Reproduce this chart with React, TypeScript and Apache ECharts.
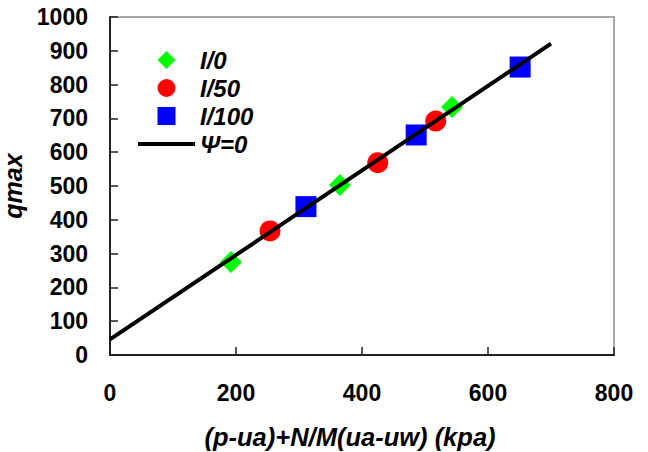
import React, { useEffect, useRef } from "react";
import * as echarts from "echarts";

const seriesNames = ["I/0", "I/50", "I/100", "Ψ=0"];
const i0Points: [number, number][] = [
  [192, 275],
  [365, 503],
  [543, 734],
];
const i50Points: [number, number][] = [
  [254, 367],
  [425, 569],
  [517, 692],
];
const i100Points: [number, number][] = [
  [311, 439],
  [486, 651],
  [651, 852],
];
const fitLine: [number, number][] = [
  [0, 46],
  [700, 921],
];
const xTicks = { min: 0, max: 800, interval: 200 };
const yTicks = { min: 0, max: 1000, interval: 100 };

const FONT = "'Liberation Sans', Arial, sans-serif";

export default function App() {
  const ref = useRef<HTMLDivElement>(null);
  useEffect(() => {
    if (!ref.current) return;
    const chart = echarts.init(ref.current, undefined, { renderer: "svg" });
    chart.setOption({
      animation: false,
      backgroundColor: "#ffffff",
      grid: {
        left: 110,
        right: 34,
        top: 17,
        bottom: 97,
        show: true,
        borderColor: "#8c8c8c",
        borderWidth: 1.5,
        backgroundColor: "transparent",
        containLabel: false,
        outerBoundsMode: "none",
      },
      legend: {
        orient: "vertical",
        left: 133,
        top: 43,
        itemWidth: 57,
        itemHeight: 18,
        itemGap: 4,
        symbolKeepAspect: true,
        textStyle: {
          fontFamily: FONT,
          fontSize: 24,
          fontWeight: "bold",
          fontStyle: "italic",
          color: "#000",
          lineHeight: 24,
        },
        data: [
          { name: seriesNames[0], icon: "path://M9,0 L18,9 L9,18 L0,9 Z" },
          { name: seriesNames[1], icon: "path://M0,9 A9,9 0 1,1 18,9 A9,9 0 1,1 0,9 Z" },
          { name: seriesNames[2], icon: "path://M0,0 L17,0 L17,17 L0,17 Z" },
          { name: seriesNames[3], icon: "path://M0,0 L57,0 L57,4 L0,4 Z" },
        ],
      },
      xAxis: {
        type: "value",
        min: xTicks.min,
        max: xTicks.max,
        interval: xTicks.interval,
        name: "(p-ua)+N/M(ua-uw) (kpa)",
        nameLocation: "middle",
        nameGap: 69,
        nameTextStyle: {
          fontFamily: FONT,
          fontSize: 25.5,
          fontWeight: "bold",
          fontStyle: "italic",
          color: "#000",
          padding: [0, 24, 0, 0],
        },
        axisLine: { lineStyle: { color: "#222", width: 2 } },
        axisTick: { inside: true, length: 8, lineStyle: { color: "#222", width: 1.5 } },
        axisLabel: {
          margin: 26,
          fontFamily: FONT,
          fontSize: 23,
          fontWeight: "bold",
          color: "#000",
          formatter: (v: number) => String(v),
        },
        splitLine: { show: false },
      },
      yAxis: {
        type: "value",
        min: yTicks.min,
        max: yTicks.max,
        interval: yTicks.interval,
        name: "qmax",
        nameLocation: "middle",
        nameGap: 74,
        nameTextStyle: {
          fontFamily: FONT,
          fontSize: 25,
          fontWeight: "bold",
          fontStyle: "italic",
          color: "#000",
        },
        axisLine: { show: true, lineStyle: { color: "#222", width: 2 } },
        axisTick: { show: true, inside: true, length: 8, lineStyle: { color: "#222", width: 1.5 } },
        axisLabel: {
          margin: 22,
          fontFamily: FONT,
          fontSize: 23,
          fontWeight: "bold",
          color: "#000",
          formatter: (v: number) => String(v),
        },
        splitLine: { show: false },
      },
      series: [
        {
          name: seriesNames[0],
          type: "scatter",
          symbol: "diamond",
          symbolSize: 22,
          itemStyle: { color: "#00ff00", opacity: 1 },
          data: i0Points,
          z: 2,
        },
        {
          name: seriesNames[1],
          type: "scatter",
          symbol: "circle",
          symbolSize: 21,
          itemStyle: { color: "#ff0000", opacity: 1 },
          data: i50Points,
          z: 2,
        },
        {
          name: seriesNames[2],
          type: "scatter",
          symbol: "rect",
          symbolSize: 21,
          itemStyle: { color: "#0000ff", opacity: 1 },
          data: i100Points,
          z: 2,
        },
        {
          name: seriesNames[3],
          type: "line",
          showSymbol: false,
          symbol: "none",
          lineStyle: { color: "#000", width: 4 },
          itemStyle: { color: "#000" },
          data: fitLine,
          z: 5,
        },
      ],
    });
    return () => chart.dispose();
  }, []);
  return <div ref={ref} style={{ width: 648, height: 452, position: "absolute", left: 0, top: 0 }} />;
}
